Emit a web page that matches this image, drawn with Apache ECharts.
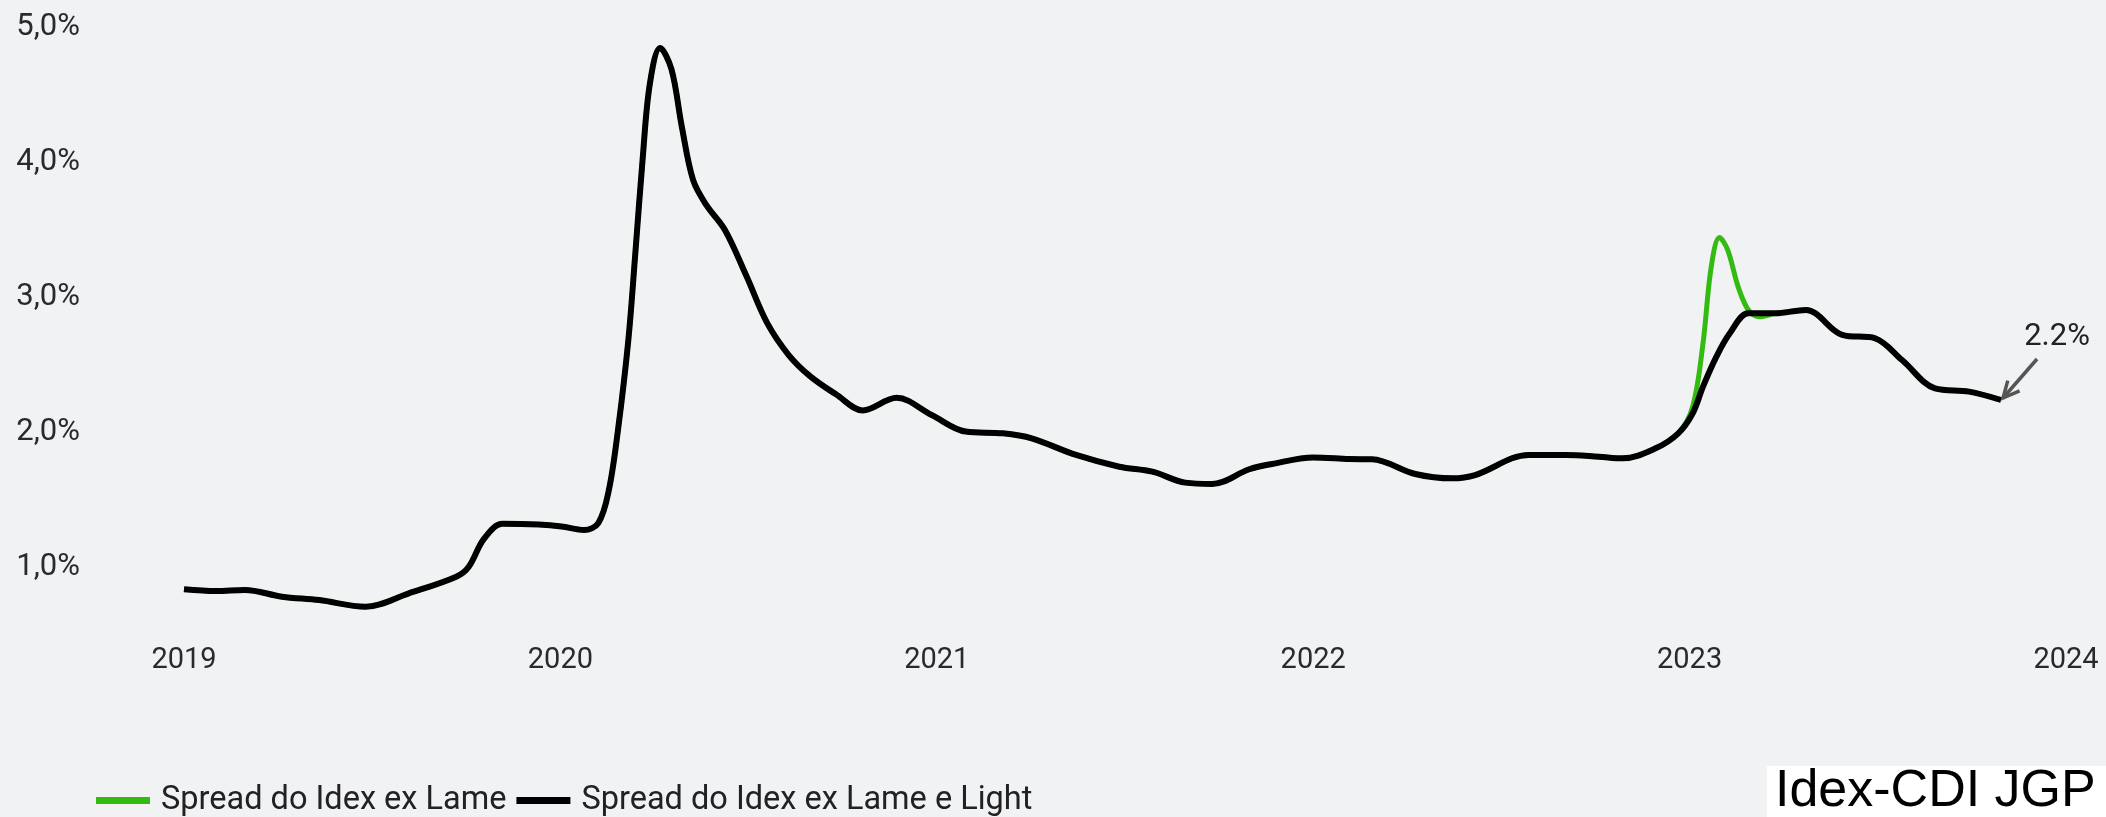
<!DOCTYPE html>
<html>
<head>
<meta charset="utf-8">
<script src="https://cdn.jsdelivr.net/npm/echarts@6/dist/echarts.min.js"></script>
<style>
html,body{margin:0;padding:0;background:#f1f2f4;}
#c{width:2106px;height:817px;}
</style>
</head>
<body>
<div id="c"></div>
<script>
const seriesNames = ['Spread do Idex ex Lame', 'Spread do Idex ex Lame e Light'];
const yearTicks = [2019, 2020, 2021, 2022, 2023, 2024];

const blackDates = [
  '2019-01-01','2019-02-01','2019-03-01','2019-04-06','2019-05-12','2019-06-26','2019-08-07','2019-09-22','2019-10-04','2019-10-19','2019-11-06','2019-12-11',
  '2020-01-02','2020-01-24','2020-02-07','2020-02-17','2020-02-26','2020-03-07','2020-03-14','2020-03-21','2020-03-28','2020-04-07','2020-04-18','2020-04-28',
  '2020-05-09','2020-05-22','2020-06-09','2020-06-30','2020-07-20','2020-08-10','2020-08-31','2020-09-25','2020-10-21','2020-11-23','2020-12-27',
  '2021-01-29','2021-03-06','2021-04-03','2021-05-16','2021-06-27','2021-07-29','2021-08-30','2021-09-25','2021-10-31','2021-11-22',
  '2022-01-01','2022-02-05','2022-02-27','2022-04-10','2022-05-16','2022-06-07','2022-07-29','2022-09-03','2022-10-05','2022-10-28','2022-11-29','2022-12-21',
  '2023-01-04','2023-01-14','2023-01-27','2023-02-09','2023-02-27','2023-03-25','2023-04-24','2023-05-03','2023-05-29','2023-06-30','2023-07-26','2023-08-27','2023-09-29','2023-10-30'
];
const blackValues = [
  0.835,0.822,0.83,0.78,0.755,0.706,0.805,0.928,1.0,1.21,1.32,1.314,
  1.30,1.274,1.327,1.565,2.015,2.676,3.338,4.025,4.58,4.845,4.687,4.264,
  3.867,3.68,3.496,3.153,2.808,2.57,2.412,2.279,2.16,2.253,2.126,
  2.003,1.99,1.953,1.83,1.743,1.706,1.625,1.615,1.724,1.763,
  1.812,1.80,1.798,1.689,1.657,1.681,1.83,1.83,1.817,1.805,1.879,1.99,
  2.138,2.336,2.558,2.731,2.879,2.879,2.904,2.879,2.719,2.694,2.533,2.323,2.299,2.237
];
// Where the green series departs from the black one (early 2023)
const greenPeakDates = ['2023-01-04','2023-01-14','2023-01-22','2023-01-30','2023-02-07','2023-02-17','2023-02-27','2023-03-10'];
const greenPeakValues = [2.188,2.657,3.225,3.44,3.348,3.077,2.904,2.854];
const lastLabel = '2.2%';

function toYear(s){
  const d = Date.parse(s + 'T00:00:00Z');
  const y = Number(s.slice(0,4));
  const a = Date.UTC(y,0,1), b = Date.UTC(y+1,0,1);
  return y + (d - a) / (b - a);
}

const blackData = blackDates.map((d,i)=>[toYear(d), blackValues[i]]);
const greenData = [];
blackDates.forEach((d,i)=>{ if (d < '2023-01-01') greenData.push([toYear(d), blackValues[i]]); });
greenPeakDates.forEach((d,i)=>greenData.push([toYear(d), greenPeakValues[i]]));
blackDates.forEach((d,i)=>{ if (d > '2023-03-20') greenData.push([toYear(d), blackValues[i]]); });

const chart = echarts.init(document.getElementById('c'), null, {renderer:'canvas'});
const FONT = 'Roboto';
chart.setOption({
  backgroundColor: '#f1f2f4',
  animation: false,
  grid: {left: 184, right: 40, top: 27, bottom: 182.5, containLabel: false},
  xAxis: {
    type: 'value', min: 2019, max: 2024, interval: 1,
    axisLine: {show:false}, axisTick: {show:false}, splitLine: {show:false},
    axisLabel: {fontFamily: FONT, fontSize: 29, color: '#2a2a2a', margin: 12, formatter: v => String(v)}
  },
  yAxis: {
    type: 'value', min: 0.5, max: 5, interval: 0.5,
    axisLine: {show:false}, axisTick: {show:false}, splitLine: {show:false},
    axisLabel: {fontFamily: FONT, fontSize: 31, color: '#2a2a2a', margin: 104,
      formatter: v => (Math.abs(v - Math.round(v)) < 1e-6 ? v.toFixed(1).replace('.', ',') + '%' : '')}
  },
  legend: {
    left: 91, top: 779, icon: 'rect', itemWidth: 54, itemHeight: 7, itemGap: 10,
    textStyle: {fontFamily: FONT, fontSize: 32.5, color: '#222', padding: [0,0,0,6]},
    data: seriesNames
  },
  series: [
    {name: seriesNames[0], type: 'line', data: greenData, smooth: 0.35, showSymbol: false,
     lineStyle: {color: '#33bb11', width: 5}, itemStyle: {color: '#33bb11'}, z: 2},
    {name: seriesNames[1], type: 'line', data: blackData, smooth: 0.35, showSymbol: false,
     lineStyle: {color: '#000', width: 6}, itemStyle: {color: '#000'}, z: 3}
  ]
});

const last = blackData[blackData.length - 1];
const p = chart.convertToPixel({gridIndex: 0}, last);
const tip = [p[0] + 2, p[1] - 2];
const tail = [tip[0] + 34, tip[1] - 39];
const ang = Math.atan2(tail[1] - tip[1], tail[0] - tip[0]);
const hl = 18, ha = 0.45;
const h1 = [tip[0] + hl*Math.cos(ang+ha), tip[1] + hl*Math.sin(ang+ha)];
const h2 = [tip[0] + hl*Math.cos(ang-ha), tip[1] + hl*Math.sin(ang-ha)];

chart.setOption({
  graphic: [
    {type:'line', shape:{x1:tail[0], y1:tail[1], x2:tip[0], y2:tip[1]}, style:{stroke:'#555', lineWidth:3.5}, z: 10},
    {type:'polyline', shape:{points:[h1, tip, h2]}, style:{stroke:'#555', lineWidth:3.5, fill:null}, z: 10},
    {type:'text', x: tail[0] + 20, y: tail[1] - 22, style:{text: lastLabel, fontFamily: FONT, fontSize: 31, fill:'#222', align:'center', verticalAlign:'middle'}, z: 10},
    {type:'rect', shape:{x:1767, y:766, width:339, height:51}, style:{fill:'#ffffff'}, z: 10},
    {type:'text', x: 1775, y: 792, style:{text:'Idex-CDI JGP', fontFamily:'Liberation Sans', fontSize: 52, fill:'#000', align:'left', verticalAlign:'middle'}, z: 11}
  ]
});
</script>
</body>
</html>
